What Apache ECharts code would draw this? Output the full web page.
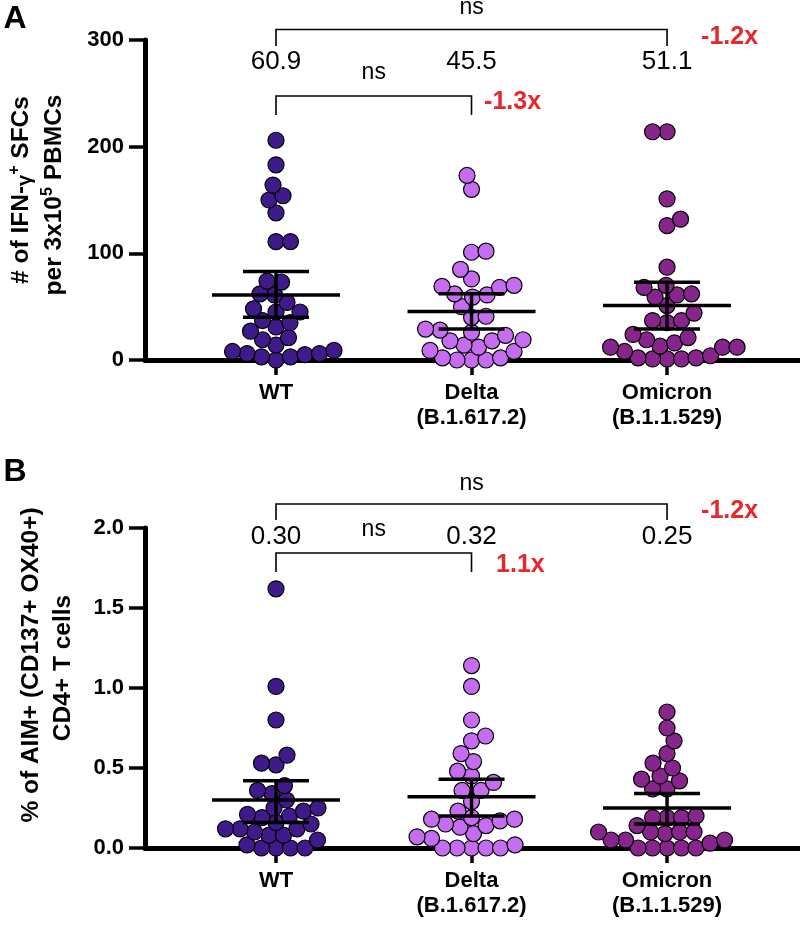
<!DOCTYPE html>
<html>
<head>
<meta charset="UTF-8">
<title>IFN-γ ELISpot and AIM assay</title>
<script src="https://cdn.jsdelivr.net/npm/echarts@6/dist/echarts.min.js"></script>
<style>
  html, body { margin: 0; padding: 0; background: #fff; }
  #main { width: 800px; height: 926px; }
</style>
</head>
<body>
<div id="main"></div>
<script>
var categories = ['WT', 'Delta\n(B.1.617.2)', 'Omicron\n(B.1.1.529)'];
var groupColors = ['#3f1a8b', '#c66cf0', '#88258c'];

// panel A: IFN-γ+ SFCs per 3x10^5 PBMCs
var ifnWT = [206, 183, 164, 150, 154, 138, 111, 111, 74, 73, 62, 61, 54, 45, 45, 48, 37, 31, 35, 27, 21, 14, 19, 5, 6, 9, 0, 8, 3, 6, 3];
var ifnDelta = [173, 160, 102, 101, 85, 76, 69, 70, 68, 62, 59, 61, 50, 41, 40, 29, 26, 28, 23, 19, 14, 12, 8, 18, 18, 9, 2, 0, 0, 2, 0];
var ifnOmicron = [214, 214, 151, 132, 126, 87, 70, 68, 62, 59, 61, 51, 44, 35, 37, 37, 19, 21, 24, 12, 13, 16, 12, 12, 8, 2, 1, 1, 4, 1, 2];
var ifnMean = [60.9, 45.5, 51.1];
var ifnCI = [[40, 83], [29, 62], [29, 73]];
var ifnFold = ['-1.3x', '-1.2x'];

// panel B: % AIM+ (CD137+ OX40+) CD4+ T cells
var aimWT = [1.62, 1.01, 0.80, 0.58, 0.53, 0.52, 0.39, 0.34, 0.36, 0.30, 0.23, 0.21, 0.25, 0.25, 0.20, 0.16, 0.15, 0.19, 0.12, 0.12, 0.12, 0.10, 0.08, 0.08, 0.05, 0, 0, 0, 0.02, 0];
var aimDelta = [1.14, 1.01, 0.80, 0.70, 0.67, 0.59, 0.54, 0.48, 0.45, 0.41, 0.36, 0.36, 0.29, 0.23, 0.15, 0.13, 0.17, 0.18, 0.18, 0.14, 0.19, 0.09, 0.07, 0.06, 0.02, 0, 0, 0, 0, 0];
var aimOmicron = [0.85, 0.75, 0.67, 0.59, 0.50, 0.43, 0.53, 0.45, 0.42, 0.37, 0.37, 0.19, 0.19, 0.20, 0.19, 0.14, 0.10, 0.09, 0.10, 0.10, 0.10, 0.05, 0.05, 0.05, 0.03, 0, 0, 0, 0, 0];
var aimMean = [0.30, 0.32, 0.25];
var aimCI = [[0.16, 0.42], [0.20, 0.43], [0.15, 0.34]];
var aimFold = ['1.1x', '-1.2x'];

// where the bracket annotations sit, in each panel's y units
var annot = [
  { ns: 330, outer: [309.8, 294.4], mean: 279.8, innerNs: 269.5, inner: [247.5, 229.7], fold: [241.9, 302.8], foldX: [2.21, 3.32] },
  { ns: 2.275, outer: [2.15, 2.05], mean: 1.944, innerNs: 1.99, inner: [1.844, 1.725], fold: [1.769, 2.106], foldX: [2.25, 3.32] }
];

var FONT = '"Liberation Sans", Arial, sans-serif';
var chart = echarts.init(document.getElementById('main'));

function xAxisCfg(g) {
  return {
    type: 'value', gridIndex: g, min: 0.33, max: 3.68,
    axisLine: { show: true, onZero: false, lineStyle: { color: '#000', width: 5 } },
    axisTick: { show: true, customValues: [1, 2, 3], length: 15, lineStyle: { color: '#000', width: 3.5 } },
    axisLabel: {
      customValues: [1, 2, 3], margin: 20, color: '#000',
      fontFamily: FONT, fontWeight: 'bold', fontSize: 22, lineHeight: 25,
      formatter: function (v) { return categories[Math.round(v) - 1]; }
    },
    splitLine: { show: false }
  };
}
function yAxisCfg(g, max, step, digits) {
  return {
    type: 'value', gridIndex: g, min: 0, max: max, interval: step,
    axisLine: { show: true, lineStyle: { color: '#000', width: 5 } },
    axisTick: { show: true, length: 16, lineStyle: { color: '#000', width: 3.5 } },
    axisLabel: {
      margin: 21, color: '#000', fontFamily: FONT, fontWeight: 'bold', fontSize: 22,
      showMinLabel: true, showMaxLabel: true,
      formatter: function (v) { return v.toFixed(digits); }
    },
    splitLine: { show: false }
  };
}

function renderErr(params, api) {
  var m = api.coord([api.value(0), api.value(1)]);
  var lo = api.coord([api.value(0), api.value(2)]);
  var hi = api.coord([api.value(0), api.value(3)]);
  var st = { stroke: '#000', lineWidth: 3.5 };
  return {
    type: 'group', children: [
      { type: 'line', shape: { x1: m[0] - 64, y1: m[1], x2: m[0] + 64, y2: m[1] }, style: st },
      { type: 'line', shape: { x1: lo[0], y1: lo[1], x2: hi[0], y2: hi[1] }, style: st },
      { type: 'line', shape: { x1: hi[0] - 33, y1: hi[1], x2: hi[0] + 33, y2: hi[1] }, style: st },
      { type: 'line', shape: { x1: lo[0] - 33, y1: lo[1], x2: lo[0] + 33, y2: lo[1] }, style: st }
    ]
  };
}

function renderBracket(params, api) {
  var a = api.coord([api.value(0), api.value(2)]);
  var b = api.coord([api.value(1), api.value(2)]);
  var d = api.coord([api.value(0), api.value(3)]);
  return {
    type: 'polyline',
    shape: { points: [[a[0], d[1]], a, b, [b[0], d[1]]] },
    style: { stroke: '#000', lineWidth: 1.6, fill: null }
  };
}

function textSeries(g, items) {
  return {
    type: 'custom', xAxisIndex: g, yAxisIndex: g, clip: false, z: 5,
    data: items.map(function (t) { return [t.x, t.y]; }),
    renderItem: function (params, api) {
      var t = items[params.dataIndex];
      var p = api.coord([api.value(0), api.value(1)]);
      return {
        type: 'text', x: p[0], y: p[1],
        style: {
          text: t.text, fill: t.red ? '#e8262b' : '#000',
          fontFamily: FONT, fontSize: t.size, fontWeight: t.red ? 'bold' : 'normal',
          align: 'center', verticalAlign: 'middle'
        }
      };
    }
  };
}

function panelSeries(g, groups, mean, ci, fold, digits) {
  var an = annot[g];
  var out = [];
  groups.forEach(function (vals, i) {
    out.push({
      type: 'scatter', xAxisIndex: g, yAxisIndex: g, symbol: 'circle', symbolSize: 16,
      itemStyle: { color: groupColors[i], borderColor: '#000', borderWidth: 1.2, opacity: 1 },
      data: vals.map(function (v) { return [i + 1, v]; }), z: 2
    });
  });
  out.push({
    type: 'custom', xAxisIndex: g, yAxisIndex: g, z: 4, renderItem: renderErr,
    data: mean.map(function (m, i) { return [i + 1, m, ci[i][0], ci[i][1]]; })
  });
  out.push({
    type: 'custom', xAxisIndex: g, yAxisIndex: g, z: 4, clip: false, renderItem: renderBracket,
    data: [[1, 3, an.outer[0], an.outer[1]], [1, 2, an.inner[0], an.inner[1]]]
  });
  var texts = [
    { x: 2, y: an.ns, text: 'ns', size: 23 },
    { x: 1.5, y: an.innerNs, text: 'ns', size: 23 },
    { x: an.foldX[0], y: an.fold[0], text: fold[0], size: 25, red: true },
    { x: an.foldX[1], y: an.fold[1], text: fold[1], size: 25, red: true }
  ];
  mean.forEach(function (m, i) {
    texts.push({ x: i + 1, y: an.mean, text: m.toFixed(digits), size: 26 });
  });
  out.push(textSeries(g, texts));
  return out;
}

var seriesA = panelSeries(0, [ifnWT, ifnDelta, ifnOmicron], ifnMean, ifnCI, ifnFold, 1);
var seriesB = panelSeries(1, [aimWT, aimDelta, aimOmicron], aimMean, aimCI, aimFold, 2);

var titleFont = { fontFamily: FONT, fontWeight: 'bold', fontSize: 24.5, fill: '#000' };
function rotText(x, y, text, rich) {
  return {
    type: 'text', x: x, y: y, rotation: Math.PI / 2,
    style: Object.assign({ text: text, align: 'center', verticalAlign: 'middle', rich: rich }, titleFont)
  };
}
var richT = {
  b: { fontFamily: FONT, fontWeight: 'bold', fontSize: 24.5, lineHeight: 29 },
  g: { fontFamily: FONT, fontWeight: 'bold', fontSize: 20, lineHeight: 29, verticalAlign: 'bottom' },
  sup: { fontFamily: FONT, fontWeight: 'bold', fontSize: 16, lineHeight: 16, verticalAlign: 'top' }
};

chart.setOption({
  animation: false,
  backgroundColor: '#fff',
  grid: [
    { left: 145, right: 0, top: 40, height: 320 },
    { left: 145, right: 0, top: 528, height: 320 }
  ],
  xAxis: [xAxisCfg(0), xAxisCfg(1)],
  yAxis: [yAxisCfg(0, 300, 100, 0), yAxisCfg(1, 2, 0.5, 1)],
  graphic: [
    { type: 'text', x: 15, y: 19, style: { text: 'A', fontFamily: FONT, fontWeight: 'bold', fontSize: 32, fill: '#000', align: 'center', verticalAlign: 'middle' } },
    { type: 'text', x: 15, y: 472, style: { text: 'B', fontFamily: FONT, fontWeight: 'bold', fontSize: 32, fill: '#000', align: 'center', verticalAlign: 'middle' } },
    rotText(21, 190, '{b|# of IFN-}{g|γ}{sup|+}{b| SFCs}', richT),
    rotText(54, 195, '{b|per 3x10}{sup|5}{b| PBMCs}', richT),
    rotText(31, 665, '% of AIM+ (CD137+ OX40+)'),
    rotText(63, 668, 'CD4+ T cells')
  ],
  series: seriesA.concat(seriesB)
});

// beeswarm: spread points sideways so circles don't pile up
function swarm(values, g, cx) {
  var D = 14.5;
  var finder = { xAxisIndex: g, yAxisIndex: g };
  var unit = chart.convertToPixel(finder, [cx + 1, 0])[0] - chart.convertToPixel(finder, [cx, 0])[0];
  var pts = values.map(function (v) {
    return { v: v, py: chart.convertToPixel(finder, [cx, v])[1] };
  });
  pts.sort(function (a, b) { return b.py - a.py; });
  var placed = [];
  var side = 1;
  function fits(x, y) {
    for (var j = 0; j < placed.length; j++) {
      var dx = placed[j][0] - x, dy = placed[j][1] - y;
      if (dx * dx + dy * dy < D * D) return false;
    }
    return true;
  }
  pts.forEach(function (p) {
    var found = 0;
    for (var k = 0; k < 400; k += 0.5) {
      var tries = k === 0 ? [0] : [side * k, -side * k];
      var ok = false;
      for (var t = 0; t < tries.length; t++) {
        if (fits(tries[t], p.py)) { found = tries[t]; ok = true; break; }
      }
      if (ok) break;
    }
    if (found !== 0) side = found > 0 ? -1 : 1;
    placed.push([found, p.py]);
    p.dx = found;
  });
  return pts.map(function (p) { return [cx + p.dx / unit, p.v]; });
}

var allGroups = [[ifnWT, ifnDelta, ifnOmicron], [aimWT, aimDelta, aimOmicron]];
var newSeries = [];
var idx = 0;
allGroups.forEach(function (groups, g) {
  groups.forEach(function (vals, i) {
    newSeries[idx + i] = { data: swarm(vals, g, i + 1) };
  });
  for (var k = 3; k < seriesA.length; k++) newSeries[idx + k] = {};
  idx += seriesA.length;
});
chart.setOption({ series: newSeries });
</script>
</body>
</html>
